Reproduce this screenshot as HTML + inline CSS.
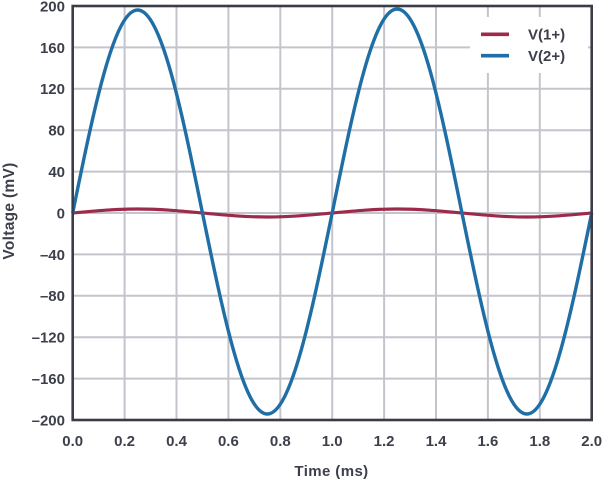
<!DOCTYPE html>
<html><head><meta charset="utf-8"><style>
html,body{margin:0;padding:0;background:#fff;}
svg{display:block;}
text{font-family:"Liberation Sans",Arial,sans-serif;font-weight:bold;fill:#3d3f4a;}
</style></head><body>
<svg width="603" height="481" viewBox="0 0 603 481" xmlns="http://www.w3.org/2000/svg">
<rect x="0" y="0" width="603" height="481" fill="#fff"/>
<g stroke="#c4c4cc" stroke-width="2">
<line x1="124.6" y1="6" x2="124.6" y2="420"/>
<line x1="176.5" y1="6" x2="176.5" y2="420"/>
<line x1="228.4" y1="6" x2="228.4" y2="420"/>
<line x1="280.3" y1="6" x2="280.3" y2="420"/>
<line x1="332.2" y1="6" x2="332.2" y2="420"/>
<line x1="384.1" y1="6" x2="384.1" y2="420"/>
<line x1="436" y1="6" x2="436" y2="420"/>
<line x1="487.9" y1="6" x2="487.9" y2="420"/>
<line x1="539.8" y1="6" x2="539.8" y2="420"/>
<line x1="72.7" y1="47.4" x2="591.7" y2="47.4"/>
<line x1="72.7" y1="88.8" x2="591.7" y2="88.8"/>
<line x1="72.7" y1="130.2" x2="591.7" y2="130.2"/>
<line x1="72.7" y1="171.6" x2="591.7" y2="171.6"/>
<line x1="72.7" y1="213" x2="591.7" y2="213"/>
<line x1="72.7" y1="254.4" x2="591.7" y2="254.4"/>
<line x1="72.7" y1="295.8" x2="591.7" y2="295.8"/>
<line x1="72.7" y1="337.2" x2="591.7" y2="337.2"/>
<line x1="72.7" y1="378.6" x2="591.7" y2="378.6"/>
</g>
<rect x="470" y="17" width="118" height="56" fill="#fff"/>
<path d="M72.7,213 C93.86,211 114.1,209 137.575,209 C161.05,209 181.29,211 202.45,213 C223.61,215 243.85,217 267.325,217 C290.8,217 311.04,215 332.2,213 C353.36,211 373.6,209 397.075,209 C420.55,209 440.79,211 461.95,213 C483.11,215 503.35,217 526.825,217 C550.3,217 570.54,215 591.7,213" fill="none" stroke="#9c2b4b" stroke-width="3.2"/>
<path d="M72.7,213 C93.86,109 114.1,10 137.575,10 C161.05,10 181.29,109 202.45,213 C223.61,316 243.85,414 267.325,414 C290.8,414 311.04,316 332.2,213 C353.36,108.5 373.6,9 397.075,9 C420.55,9 440.79,108.5 461.95,213 C483.11,316 503.35,414 526.825,414 C550.3,414 570.54,316 591.7,213" fill="none" stroke="#1f6fa6" stroke-width="3.4"/>
<rect x="72.7" y="6" width="519" height="414" fill="none" stroke="#3a3c47" stroke-width="2.6"/>
<line x1="481" y1="34.3" x2="509" y2="34.3" stroke="#9c2b4b" stroke-width="3.6"/>
<line x1="481" y1="55.7" x2="509" y2="55.7" stroke="#1f6fa6" stroke-width="3.6"/>
<text x="528" y="39.5" font-size="15">V(1+)</text>
<text x="528" y="61" font-size="15">V(2+)</text>
<g font-size="15" text-anchor="end">
<text x="65" y="11.4">200</text>
<text x="65" y="52.8">160</text>
<text x="65" y="94.2">120</text>
<text x="65" y="135.6">80</text>
<text x="65" y="177">40</text>
<text x="65" y="218.4">0</text>
<text x="65" y="259.8">–40</text>
<text x="65" y="301.2">–80</text>
<text x="65" y="342.6">–120</text>
<text x="65" y="384">–160</text>
<text x="65" y="425.4">–200</text>
</g>
<g font-size="15" text-anchor="middle">
<text x="72.7" y="446">0.0</text>
<text x="124.6" y="446">0.2</text>
<text x="176.5" y="446">0.4</text>
<text x="228.4" y="446">0.6</text>
<text x="280.3" y="446">0.8</text>
<text x="332.2" y="446">1.0</text>
<text x="384.1" y="446">1.2</text>
<text x="436" y="446">1.4</text>
<text x="487.9" y="446">1.6</text>
<text x="539.8" y="446">1.8</text>
<text x="591.7" y="446">2.0</text>
</g>
<text x="331.5" y="476" font-size="15" text-anchor="middle" letter-spacing="0.4">Time (ms)</text>
<text transform="translate(14,211) rotate(-90)" x="0" y="0" font-size="15.5" text-anchor="middle" letter-spacing="0.3">Voltage (mV)</text>
</svg>
</body></html>
